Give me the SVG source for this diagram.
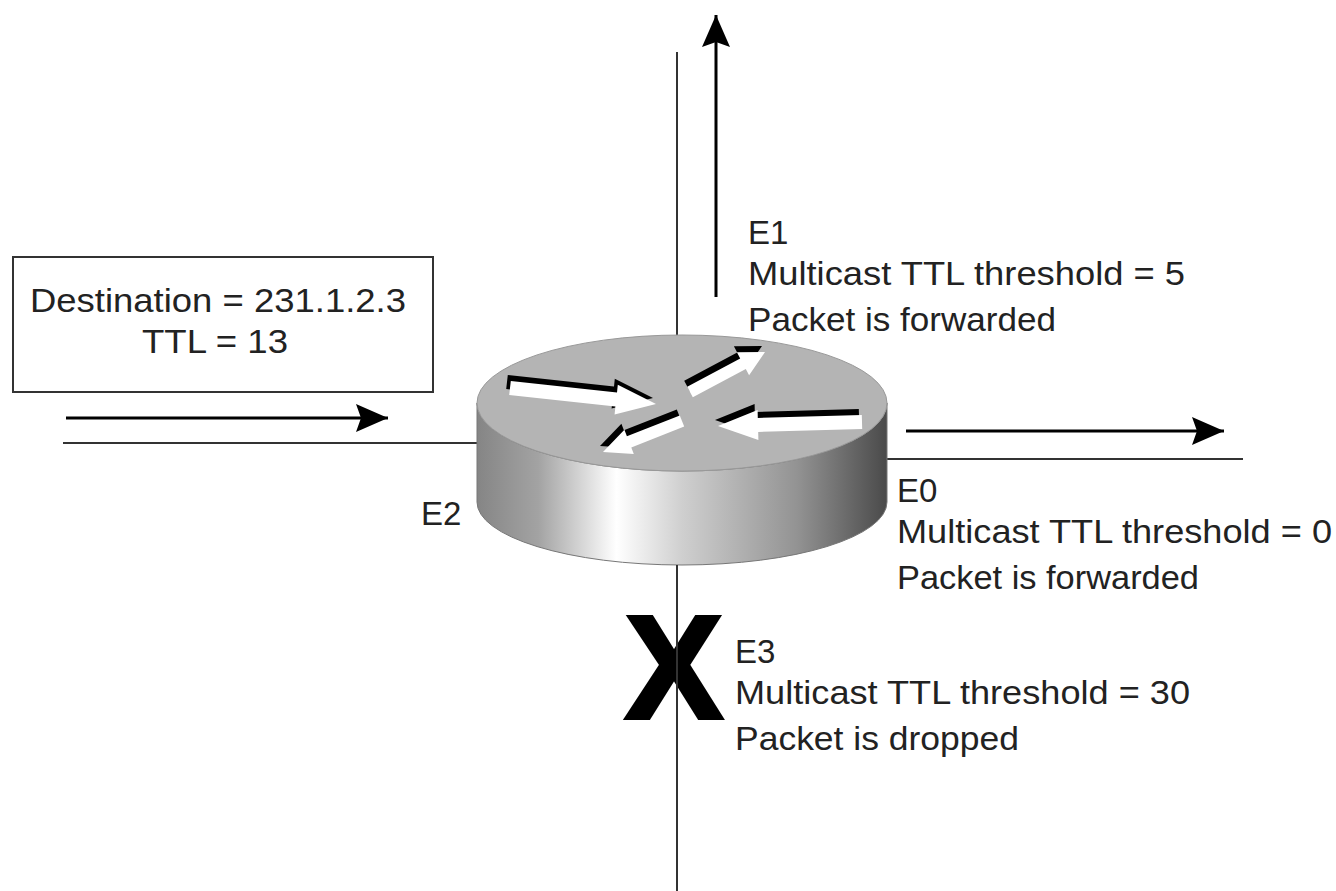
<svg xmlns="http://www.w3.org/2000/svg" width="1336" height="891" viewBox="0 0 1336 891">
  <style>
    .wire { stroke: #333; stroke-width: 2; fill: none; }
    .flow { stroke: #000; stroke-width: 3; fill: none; marker-end: url(#head); }
    .lbl { font-family: "Liberation Sans", Arial, sans-serif; font-size: 33px; fill: #222; }
    .rim { fill: #000; }
    .face { fill: #fff; }
  </style>
  <defs>
    <marker id="head" markerUnits="userSpaceOnUse" markerWidth="34" markerHeight="30" refX="32" refY="14" orient="auto">
      <path d="M0,0 L32,14 L0,28 L5,14 Z" fill="#000"/>
    </marker>
    <linearGradient id="side" x1="0" y1="0" x2="1" y2="0">
      <stop offset="0" stop-color="#858585"/>
      <stop offset="0.15" stop-color="#a3a3a3"/>
      <stop offset="0.34" stop-color="#ffffff"/>
      <stop offset="0.5" stop-color="#cfcfcf"/>
      <stop offset="0.78" stop-color="#939393"/>
      <stop offset="1" stop-color="#4a4a4a"/>
    </linearGradient>
  </defs>

  <!-- network segments and traffic arrows -->
  <g id="connectors">
    <line class="wire" x1="677" y1="52" x2="677" y2="470"/>
    <line class="wire" x1="63" y1="443" x2="480" y2="443"/>
    <line class="wire" x1="885" y1="459" x2="1243" y2="459"/>
    <line class="flow" x1="66" y1="418" x2="388" y2="418"/>
    <line class="flow" x1="716" y1="297" x2="716" y2="15"/>
    <line class="flow" x1="906" y1="431" x2="1224" y2="431"/>
  </g>

  <!-- router cylinder -->
  <g id="router">
    <path d="M477,403 L477,502 A205,63 0 0 0 887,502 L887,403 A205,68 0 0 1 477,403 Z" fill="url(#side)" stroke="#777" stroke-width="1"/>
    <ellipse cx="682" cy="403" rx="205" ry="68" fill="#b4b4b4" stroke="#999" stroke-width="1"/>
    <g transform="translate(-3,-6)" class="rim">
      <polygon points="510.8,381 617,392.6 617.8,384.7 656,404 614.6,414.5 615.4,406.6 509.2,395"/>
      <polygon points="687.2,386.7 740.2,358.5 736.9,352.3 765,352 749.1,375.3 745.8,369.1 692.8,397.3"/>
      <polygon points="861.8,415 757.8,417.9 757.6,409.9 718,426 758.4,439.9 758.2,431.9 862.2,429"/>
      <polygon points="679.8,415.4 626.9,436.2 624.4,429.7 603,452 633.8,453.9 631.3,447.4 684.2,426.6"/>
    </g>
    <g class="face">
      <polygon points="510.8,381 617,392.6 617.8,384.7 656,404 614.6,414.5 615.4,406.6 509.2,395"/>
      <polygon points="687.2,386.7 740.2,358.5 736.9,352.3 765,352 749.1,375.3 745.8,369.1 692.8,397.3"/>
      <polygon points="861.8,415 757.8,417.9 757.6,409.9 718,426 758.4,439.9 758.2,431.9 862.2,429"/>
      <polygon points="679.8,415.4 626.9,436.2 624.4,429.7 603,452 633.8,453.9 631.3,447.4 684.2,426.6"/>
    </g>
  </g>

  <!-- E3 segment with the drop mark -->
  <g id="drop">
    <text x="674" y="718" text-anchor="middle" font-family="Liberation Sans, Arial, sans-serif" font-weight="bold" font-size="146" fill="#000" stroke="#000" stroke-width="4">X</text>
    <line class="wire" x1="677" y1="565" x2="677" y2="891" stroke="#555"/>
  </g>

  <!-- packet header box -->
  <g id="packet">
    <rect x="13" y="257" width="420" height="135" fill="#fff" stroke="#333" stroke-width="2"/>
    <text class="lbl" x="218" y="312" text-anchor="middle" textLength="376" lengthAdjust="spacingAndGlyphs">Destination = 231.1.2.3</text>
    <text class="lbl" x="215" y="353" text-anchor="middle" textLength="146" lengthAdjust="spacingAndGlyphs">TTL = 13</text>
  </g>

  <g id="e1">
    <text class="lbl" x="748" y="244">E1</text>
    <text class="lbl" x="748" y="285" textLength="437" lengthAdjust="spacingAndGlyphs">Multicast TTL threshold = 5</text>
    <text class="lbl" x="748" y="331" textLength="308" lengthAdjust="spacingAndGlyphs">Packet is forwarded</text>
  </g>

  <g id="e0">
    <text class="lbl" x="897" y="502">E0</text>
    <text class="lbl" x="897" y="543" textLength="435" lengthAdjust="spacingAndGlyphs">Multicast TTL threshold = 0</text>
    <text class="lbl" x="897" y="589" textLength="302" lengthAdjust="spacingAndGlyphs">Packet is forwarded</text>
  </g>

  <g id="e3">
    <text class="lbl" x="735" y="663">E3</text>
    <text class="lbl" x="735" y="704" textLength="455" lengthAdjust="spacingAndGlyphs">Multicast TTL threshold = 30</text>
    <text class="lbl" x="735" y="750" textLength="284" lengthAdjust="spacingAndGlyphs">Packet is dropped</text>
  </g>

  <g id="e2">
    <text class="lbl" x="421" y="525">E2</text>
  </g>
</svg>
